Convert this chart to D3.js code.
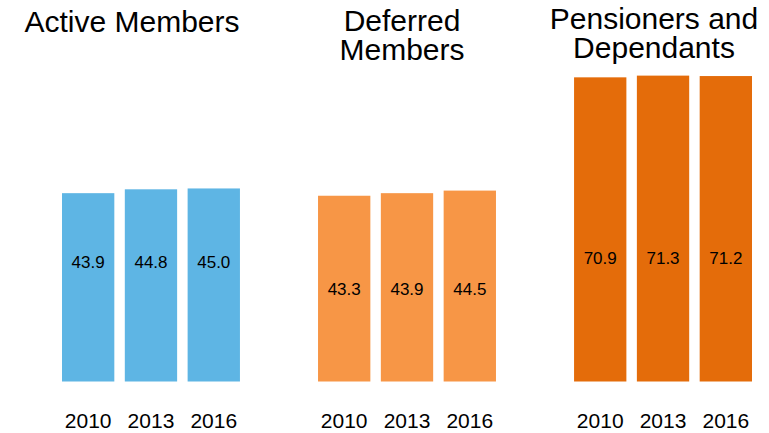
<!DOCTYPE html>
<html lang="en">
<head>
  <meta charset="UTF-8">
  <title>Members</title>
  <style>
    body { margin: 0; background: #fff; }
    svg { display: block; font-family: "Liberation Sans", Arial, sans-serif; }
  </style>
</head>
<body>
  <svg></svg>
  <script src="https://d3js.org/d3.v7.min.js"></script>
  <script>
    var years = ["2010", "2013", "2016"];
    var groups = ["active", "deferred", "pensioners"];
    var titles = [["Active Members"], ["Deferred", "Members"], ["Pensioners and", "Dependants"]];
    var activeValues = [43.9, 44.8, 45.0];
    var deferredValues = [43.3, 43.9, 44.5];
    var pensionerValues = [70.9, 71.3, 71.2];
    var colors = ["#5EB5E4", "#F79646", "#E46C0A"];

    var width = 769;
    var height = 433;
    var baseline = 381.5;

    // per-group text placement (title centre/baseline, value label height)
    var titleX = [132, 402, 654];
    var titleY = [32, 31, 29];
    var labelY = [262, 289, 258];

    var series = [activeValues, deferredValues, pensionerValues];

    var svg = d3.select("svg")
        .attr("width", width)
        .attr("height", height);

    var groupScale = d3.scaleBand()
                       .domain(groups)
                       .range([62, 752])
                       .paddingInner(0.305)
                       .paddingOuter(0);

    var barScale = d3.scaleBand()
                     .domain(years)
                     .range([0, groupScale.bandwidth()])
                     .paddingInner(0.167)
                     .paddingOuter(0);

    var yScale = d3.scaleLinear()
                   .domain([0, 75])
                   .range([baseline, baseline - 75 * 4.29]);

    var g = svg.selectAll("g.group")
      .data(groups)
      .enter()
      .append("g")
        .attr("class", "group")
        .attr("transform", d => "translate(" + groupScale(d) + ",0)");

    g.each(function(name, i) {
      var sel = d3.select(this);
      var rows = years.map((y, j) => ({ year: y, value: series[i][j] }));

      sel.selectAll("rect")
        .data(rows)
        .enter()
        .append("rect")
          .attr("x", d => barScale(d.year))
          .attr("width", barScale.bandwidth())
          .attr("y", d => yScale(d.value))
          .attr("height", d => baseline - yScale(d.value))
          .attr("fill", colors[i]);

      sel.selectAll("text.value")
        .data(rows)
        .enter()
        .append("text")
          .attr("class", "value")
          .attr("x", d => barScale(d.year) + barScale.bandwidth() / 2)
          .attr("y", labelY[i])
          .attr("dy", "0.35em")
          .attr("text-anchor", "middle")
          .attr("font-size", 17)
          .attr("fill", "#000")
          .text(d => d.value.toFixed(1));

      sel.selectAll("text.year")
        .data(rows)
        .enter()
        .append("text")
          .attr("class", "year")
          .attr("x", d => barScale(d.year) + barScale.bandwidth() / 2)
          .attr("y", 428)
          .attr("text-anchor", "middle")
          .attr("font-size", 21)
          .attr("fill", "#000")
          .text(d => d.year);
    });

    svg.selectAll("text.title")
      .data(titles)
      .enter()
      .append("text")
        .attr("class", "title")
        .attr("x", (d, i) => titleX[i])
        .attr("y", (d, i) => titleY[i])
        .attr("text-anchor", "middle")
        .attr("font-size", 30)
        .attr("fill", "#000")
      .selectAll("tspan")
      .data(d => d)
      .enter()
      .append("tspan")
        .attr("x", function() { return d3.select(this.parentNode).attr("x"); })
        .attr("dy", (d, j) => j === 0 ? 0 : 29)
        .text(d => d);
  </script>
</body>
</html>
